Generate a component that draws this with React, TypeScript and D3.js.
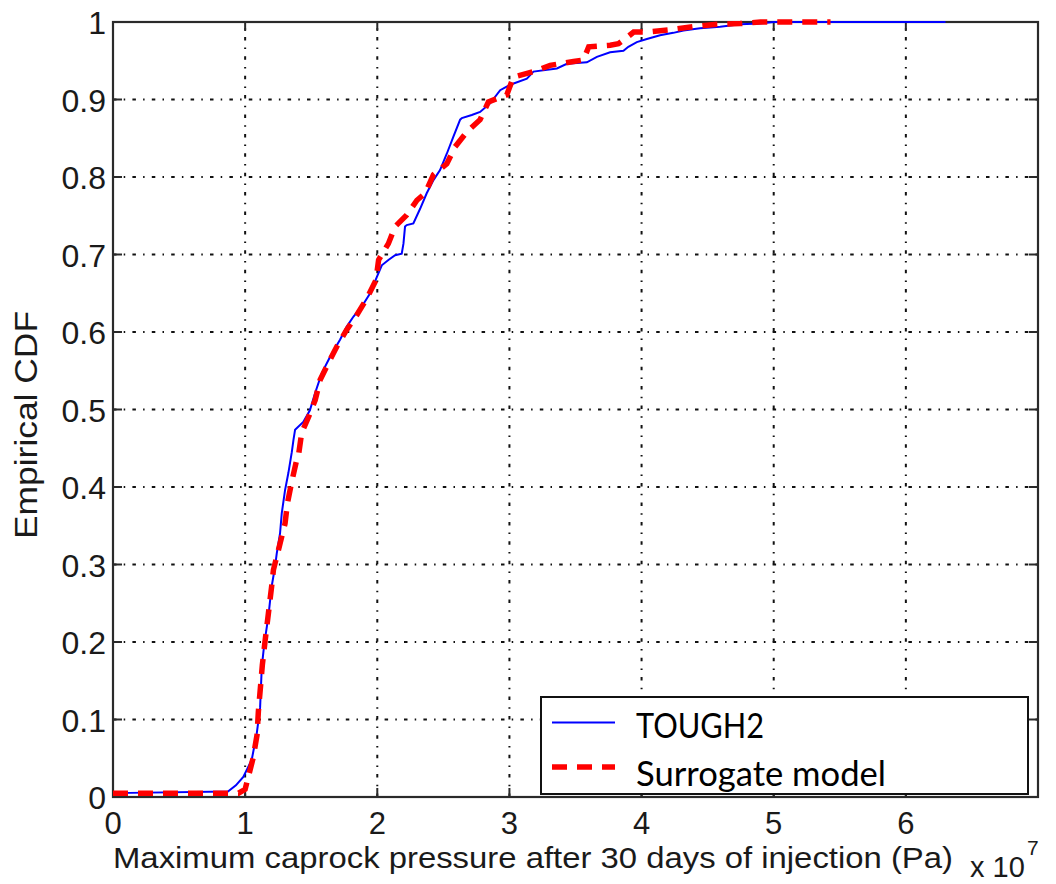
import React from "react";
import * as d3 from "d3";

// Data (x in units of 1e7 Pa, y = empirical CDF)
const toughX = [0, 0.87, 0.93, 0.986, 1.05, 1.088, 1.113, 1.126, 1.145, 1.176, 1.2, 1.226, 1.239, 1.264, 1.277, 1.302, 1.327, 1.353, 1.366, 1.378, 1.44, 1.49, 1.529, 1.58, 1.643, 1.718, 1.769, 1.82, 1.883, 1.946, 1.997, 2.034, 2.084, 2.135, 2.185, 2.198, 2.21, 2.223, 2.273, 2.324, 2.374, 2.425, 2.475, 2.526, 2.576, 2.627, 2.64, 2.715, 2.778, 2.854, 2.93, 3.006, 3.132, 3.182, 3.359, 3.435, 3.586, 3.662, 3.762, 3.863, 3.9, 3.964, 4.04, 4.14, 4.24, 4.317, 4.443, 4.595, 4.746, 4.897, 5.0, 6.3];
const toughY = [0.005, 0.007, 0.015, 0.026, 0.048, 0.082, 0.115, 0.168, 0.198, 0.233, 0.271, 0.297, 0.314, 0.34, 0.366, 0.396, 0.418, 0.445, 0.461, 0.474, 0.484, 0.499, 0.521, 0.547, 0.568, 0.59, 0.607, 0.62, 0.633, 0.65, 0.671, 0.686, 0.693, 0.699, 0.701, 0.714, 0.736, 0.738, 0.74, 0.759, 0.779, 0.796, 0.809, 0.83, 0.852, 0.874, 0.876, 0.88, 0.884, 0.895, 0.912, 0.919, 0.927, 0.936, 0.94, 0.946, 0.948, 0.955, 0.961, 0.963, 0.968, 0.974, 0.978, 0.983, 0.986, 0.989, 0.992, 0.994, 0.997, 0.998, 1.0, 1.0];

const surrX = [0, 0.95, 1.0, 1.03, 1.06, 1.09, 1.1, 1.115, 1.13, 1.15, 1.176, 1.2, 1.214, 1.264, 1.302, 1.32, 1.353, 1.39, 1.403, 1.428, 1.479, 1.53, 1.567, 1.63, 1.693, 1.769, 1.845, 1.92, 1.99, 2.01, 2.084, 2.135, 2.223, 2.3, 2.362, 2.425, 2.526, 2.589, 2.677, 2.778, 2.841, 2.98, 3.03, 3.182, 3.308, 3.485, 3.56, 3.6, 3.762, 3.825, 3.889, 3.94, 4.04, 4.217, 4.393, 4.57, 4.746, 4.9, 5.43];
const surrY = [0.005, 0.005, 0.01, 0.03, 0.05, 0.08, 0.11, 0.14, 0.17, 0.2, 0.237, 0.271, 0.293, 0.327, 0.353, 0.379, 0.407, 0.435, 0.44, 0.47, 0.49, 0.512, 0.538, 0.56, 0.581, 0.603, 0.622, 0.643, 0.667, 0.693, 0.714, 0.736, 0.751, 0.77, 0.779, 0.803, 0.817, 0.839, 0.858, 0.874, 0.897, 0.906, 0.929, 0.936, 0.944, 0.949, 0.951, 0.968, 0.97, 0.972, 0.98, 0.987, 0.987, 0.99, 0.994, 0.997, 0.998, 1.0, 1.0];

const xTicks = [0, 1, 2, 3, 4, 5, 6, 7];
const xTickLabels = ["0", "1", "2", "3", "4", "5", "6", ""];
const yTicks = [0, 0.1, 0.2, 0.3, 0.4, 0.5, 0.6, 0.7, 0.8, 0.9, 1];
const yTickLabels = ["0", "0.1", "0.2", "0.3", "0.4", "0.5", "0.6", "0.7", "0.8", "0.9", "1"];

const seriesNames = ["TOUGH2", "Surrogate model"];
const xLabel = "Maximum caprock pressure after 30 days of injection (Pa)";
const yLabel = "Empirical CDF";

export default function App() {
  const W = 1056, H = 884;
  const left = 113, right = 1038, top = 22, bottom = 797;
  const x = d3.scaleLinear().domain([0, 7]).range([left, right]);
  const y = d3.scaleLinear().domain([0, 1]).range([bottom, top]);
  const line = d3.line<[number, number]>().x((d) => x(d[0])).y((d) => y(d[1]));
  const tough: [number, number][] = toughX.map((v, i) => [v, toughY[i]]);
  const surr: [number, number][] = surrX.map((v, i) => [v, surrY[i]]);
  const font = "'Liberation Sans', Arial, sans-serif";
  const axisColor = "#2a2a2a";
  const gridDash = "3.5 7.2 1.5 7.2";
  const tickLen = 9;

  return (
    <svg width={W} height={H} style={{ position: "absolute", left: 0, top: 0, background: "#fff" }}>
      <rect x={0} y={0} width={W} height={H} fill="#fff" />
      {/* grid */}
      <g stroke="#111" strokeWidth={2} strokeDasharray={gridDash} fill="none">
        {xTicks.slice(1, -1).map((t) => (
          <line key={"gx" + t} x1={x(t)} x2={x(t)} y1={bottom} y2={top} />
        ))}
        {yTicks.slice(1, -1).map((t) => (
          <line key={"gy" + t} x1={left} x2={right} y1={y(t)} y2={y(t)} />
        ))}
      </g>
      {/* ticks */}
      <g stroke={axisColor} strokeWidth={2}>
        {xTicks.map((t) => (
          <g key={"tx" + t}>
            <line x1={x(t)} x2={x(t)} y1={bottom} y2={bottom - tickLen} />
            <line x1={x(t)} x2={x(t)} y1={top} y2={top + tickLen} />
          </g>
        ))}
        {yTicks.map((t) => (
          <g key={"ty" + t}>
            <line x1={left} x2={left + tickLen} y1={y(t)} y2={y(t)} />
            <line x1={right} x2={right - tickLen} y1={y(t)} y2={y(t)} />
          </g>
        ))}
      </g>
      {/* axes box */}
      <rect x={left} y={top} width={right - left} height={bottom - top} fill="none" stroke={axisColor} strokeWidth={2.2} />
      {/* curves */}
      <path d={line(tough) || ""} fill="none" stroke="#0000ff" strokeWidth={2} />
      <path d={line(surr) || ""} fill="none" stroke="#ff0000" strokeWidth={5.5} strokeDasharray="15 10" />
      {/* tick labels */}
      <g fontFamily={font} fontSize={31} fill="#1a1a1a">
        {xTicks.map((t, i) => (
          <text key={"lx" + t} x={x(t)} y={834} textAnchor="middle">{xTickLabels[i]}</text>
        ))}
      </g>
      <g fontFamily={font} fontSize={32} fill="#1a1a1a">
        {yTicks.map((t, i) => (
          <text key={"ly" + t} x={106} y={y(t) + 12} textAnchor="end">{yTickLabels[i]}</text>
        ))}
      </g>
      {/* axis labels */}
      <text x={113} y={868} fontFamily={font} fontSize={30} fill="#1a1a1a" textLength={840} lengthAdjust="spacingAndGlyphs">{xLabel}</text>
      <text transform="translate(37,425) rotate(-90)" textAnchor="middle" fontFamily={font} fontSize={32} fill="#1a1a1a" textLength={228} lengthAdjust="spacingAndGlyphs">{yLabel}</text>
      <text x={970} y={877} fontFamily={font} fontSize={29} fill="#1a1a1a">x 10</text>
      <text x={1027} y={855} fontFamily={font} fontSize={21} fill="#1a1a1a">7</text>
      {/* legend */}
      <g>
        <rect x={541} y={697} width={487} height={97} fill="#fff" stroke="#111" strokeWidth={2} />
        <line x1={552} x2={615} y1={722.5} y2={722.5} stroke="#0000ff" strokeWidth={2} />
        <line x1={552} x2={615} y1={767} y2={767} stroke="#ff0000" strokeWidth={5.5} strokeDasharray="15 10" />
        <text x={636} y={738} fontFamily="Lato, 'Open Sans', sans-serif" fontSize={34} fill="#000" textLength={128} lengthAdjust="spacingAndGlyphs">{seriesNames[0]}</text>
        <text x={636} y={786} fontFamily="Lato, 'Open Sans', sans-serif" fontSize={34} fill="#000" textLength={250} lengthAdjust="spacingAndGlyphs">{seriesNames[1]}</text>
      </g>
    </svg>
  );
}
